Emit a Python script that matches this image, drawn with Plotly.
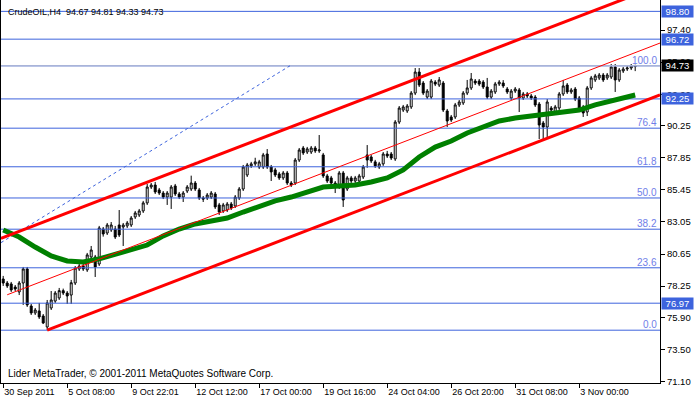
import plotly.graph_objects as go

# ---------------- data ----------------
opens = [78.78,78.48,78.41,78.18,77.81,78.48,79.53,76.76,76.24,76.39,76.01,75.19,76.61,77.13,77.36,77.91,77.73,77.58,78.48,79.53,
         79.75,79.46,80.43,80.43,79.90,82.52,82.22,82.45,82.52,82.82,82.67,82.75,82.82,83.42,83.57,83.87,84.47,85.66,85.81,85.44,
         85.21,84.91,84.91,85.74,85.14,84.91,85.36,85.51,85.96,85.44,84.84,84.84,84.91,85.14,84.32,83.87,83.94,84.39,84.24,84.84,
         85.51,86.56,87.24,87.39,87.16,87.16,88.13,87.16,86.94,86.64,86.34,86.71,85.96,85.96,87.68,88.58,88.28,88.28,88.58,88.36,
         88.06,86.49,86.34,85.96,85.66,86.71,85.51,86.34,86.11,86.11,86.41,88.06,87.91,87.54,87.16,87.39,88.13,88.13,87.76,90.52,
         91.42,91.35,91.65,92.69,94.26,93.44,92.39,92.39,93.51,93.29,93.44,91.35,90.90,90.90,91.80,91.95,92.69,93.07,93.59,93.59,
         93.51,93.14,92.39,92.77,93.37,93.44,92.99,92.32,92.84,92.92,92.32,92.62,92.47,92.39,91.87,90.45,90.15,91.57,91.27,91.57,
         92.62,93.29,92.77,92.99,92.32,91.65,91.27,93.07,93.67,93.82,94.04,93.82,93.89,94.64,93.67,94.34,94.49,94.56,94.67]
highs = [79.01,78.63,78.56,78.33,78.63,79.68,79.68,76.91,76.61,76.99,76.16,77.21,77.88,77.88,78.11,78.06,77.88,78.71,79.75,79.90,
         79.98,80.73,81.25,80.58,82.75,82.67,82.97,83.04,82.75,83.94,82.97,83.12,83.49,83.87,84.02,84.62,85.89,85.96,86.04,85.59,
         85.36,85.36,85.81,85.89,85.29,85.36,85.81,86.51,86.11,85.59,84.99,85.21,85.36,85.29,84.47,84.47,84.54,84.54,85.06,85.66,
         87.31,87.46,87.54,87.85,87.69,88.21,88.50,87.31,87.09,86.79,86.86,86.86,86.11,87.83,88.58,88.73,88.66,88.73,88.73,89.55,
         88.21,86.64,86.49,86.11,86.86,86.86,86.49,86.49,86.49,86.64,87.31,88.80,88.06,87.69,87.54,88.28,88.36,88.28,90.67,91.72,
         91.80,91.87,92.84,94.56,94.56,93.59,92.99,93.74,93.66,93.89,93.59,91.50,91.05,91.95,92.17,92.84,93.67,94.19,93.74,93.74,
         93.66,93.82,92.99,93.52,93.66,93.66,93.14,92.99,93.14,93.07,92.77,92.77,92.62,92.54,92.02,90.60,92.24,91.72,91.80,92.77,
         93.67,93.44,93.07,93.14,92.47,91.80,93.22,93.97,94.12,94.19,94.19,94.19,94.86,94.86,94.56,94.64,94.71,94.86,94.81]
lows = [78.26,78.11,77.81,77.88,77.58,76.84,76.69,76.09,76.09,75.79,75.41,74.95,76.46,76.99,77.21,77.58,76.91,76.91,78.33,79.38,
        79.38,79.31,80.28,78.93,79.75,81.95,82.07,82.30,81.77,81.92,81.25,82.60,82.67,83.27,83.42,83.72,84.32,85.51,85.14,85.06,
        84.76,84.32,84.02,84.99,84.76,84.54,85.21,85.36,85.36,84.69,84.54,84.69,84.76,84.02,83.57,83.72,83.79,83.94,84.09,84.69,
        85.36,86.41,87.09,87.24,87.01,87.01,87.01,86.11,86.41,86.19,86.19,85.81,85.66,85.81,87.53,88.06,88.13,88.13,88.21,88.21,
        86.34,85.96,85.81,85.21,85.51,84.17,85.36,85.96,85.96,85.96,86.26,87.10,87.46,87.09,87.01,87.24,87.83,87.68,87.61,90.37,
        91.27,91.20,91.50,92.54,93.14,92.54,92.24,92.24,93.21,93.14,91.27,90.15,90.52,90.75,91.65,91.80,92.54,92.92,93.29,93.21,
        92.99,92.24,92.24,92.62,93.22,93.07,92.62,92.17,92.69,91.27,92.17,92.32,92.17,91.65,89.25,89.25,89.40,91.27,91.12,91.42,
        92.47,92.62,92.62,92.09,91.42,90.90,90.97,92.92,93.52,93.67,93.52,93.67,93.74,92.77,93.52,94.19,94.34,94.41,94.33]
closes = [78.48,78.26,77.96,78.03,78.48,79.53,76.84,76.24,76.46,75.94,75.49,76.99,77.21,77.73,77.91,77.73,77.51,78.50,79.60,79.75,
          79.53,80.58,80.95,79.68,82.60,82.15,82.82,82.82,81.92,82.07,82.82,82.97,83.34,83.72,83.87,84.47,85.66,85.81,85.29,85.21,
          84.91,85.21,85.66,85.14,84.91,85.21,85.66,85.96,85.51,84.84,84.76,85.06,85.21,84.17,83.79,84.32,84.39,84.09,84.91,85.51,
          87.16,87.31,87.39,87.54,87.54,88.06,87.16,86.79,86.56,86.34,86.71,85.96,85.81,87.68,88.43,88.21,88.51,88.58,88.36,88.43,
          86.49,86.11,85.96,85.66,86.71,84.69,86.34,86.11,86.34,86.49,87.16,87.68,87.61,87.24,87.39,88.13,87.98,87.83,90.52,91.57,
          91.65,91.72,92.69,94.26,93.29,92.69,92.84,93.59,93.36,93.67,91.42,90.60,90.67,91.80,92.02,92.69,93.07,93.74,93.44,93.36,
          93.14,92.39,92.84,93.37,93.51,93.22,92.77,92.84,92.99,92.32,92.62,92.47,92.32,91.80,90.30,90.15,92.02,91.42,91.65,92.62,
          93.22,92.77,92.92,92.24,91.57,91.20,93.07,93.82,93.97,94.04,93.67,94.04,94.64,93.67,94.41,94.49,94.56,94.71,94.73]
bars = list(range(len(closes)))

# moving average (thick green), read every 4th bar
ma_bars = [0,4,8,12,16,20,24,28,32,36,40,44,48,52,56,60,64,68,72,76,80,84,88,92,96,100,
           104,108,112,116,120,124,128,132,136,140,144,148,152,156,158]
ma_vals = [82.45,81.92,81.17,80.50,80.13,80.05,80.28,80.65,81.03,81.32,82.00,82.52,82.90,83.12,83.34,83.79,
           84.24,84.62,84.91,85.29,85.66,85.74,85.81,86.04,86.34,86.94,87.91,88.65,89.10,89.70,90.15,90.60,
           90.82,90.97,91.05,91.20,91.42,91.80,92.10,92.39,92.54]

# price channel (red) and trend lines: [bar, price] end points
chan_lower = [(11, 74.95), (164.2, 92.55)]
chan_upper = [(-0.55, 81.82), (164.2, 100.75)]
chan_mid = [(1, 77.60), (164.2, 96.43)]
dash_line = [(-0.55, 81.50), (71.7, 94.73)]

# Fibonacci retracement
fib_low, fib_high = 74.95, 94.73
fib_ratios = [0.0, 0.236, 0.382, 0.5, 0.618, 0.764, 1.0]
fib_texts = ["0.0", "23.6", "38.2", "50.0", "61.8", "76.4", "100.0"]

# plain horizontal lines with price labels on the axis
hlines = [98.80, 96.72, 92.25, 76.97]
last_price = 94.73

ytick_vals = [97.40, 95.00, 92.60, 90.25, 87.85, 85.45, 83.05, 80.65, 78.25, 75.90, 73.50, 71.10]
xtick_bars = [0, 16, 32, 48, 64, 80, 96, 112, 128, 144]
xtick_text = ["30 Sep 2011", "5 Oct 08:00", "9 Oct 22:01", "12 Oct 12:00", "17 Oct 00:00",
              "19 Oct 16:00", "24 Oct 04:00", "26 Oct 20:00", "31 Oct 08:00", "3 Nov 00:00"]

title_text = "CrudeOIL,H4  94.67 94.81 94.33 94.73"
footer_text = "Lider MetaTrader, © 2001-2011 MetaQuotes Software Corp."

# ---------------- figure ----------------
BLUE = "#3d63dd"
FONT = "Liberation Sans"
XMIN, XMAX = -0.55, 164.2
YMIN, YMAX = 71.00, 99.65

fig = go.Figure()

# horizontal blue lines
fib_levels = [fib_low + r * (fib_high - fib_low) for r in fib_ratios]
for lv in hlines + fib_levels:
    fig.add_trace(go.Scatter(x=[XMIN, XMAX], y=[lv, lv], mode="lines",
                             line=dict(color=BLUE, width=1), hoverinfo="skip", showlegend=False))
# last price (grey) line
fig.add_trace(go.Scatter(x=[XMIN, XMAX], y=[last_price, last_price], mode="lines",
                         line=dict(color="#a9b4d8", width=1.5), hoverinfo="skip", showlegend=False))

# dashed blue trend line
fig.add_trace(go.Scatter(x=[p[0] for p in dash_line], y=[p[1] for p in dash_line], mode="lines",
                         line=dict(color=BLUE, width=1, dash="3px,3px"), hoverinfo="skip", showlegend=False))

# candles
fig.add_trace(go.Candlestick(
    x=bars, open=opens, high=highs, low=lows, close=closes,
    increasing=dict(line=dict(color="black", width=1), fillcolor="white"),
    decreasing=dict(line=dict(color="black", width=1), fillcolor="black"),
    whiskerwidth=0, showlegend=False, hoverinfo="skip"))

# moving average
fig.add_trace(go.Scatter(x=ma_bars, y=ma_vals, mode="lines",
                         line=dict(color="#008000", width=5), hoverinfo="skip", showlegend=False))

# red channel lines
for pts, w in [(chan_lower, 3), (chan_upper, 3), (chan_mid, 1)]:
    fig.add_trace(go.Scatter(x=[p[0] for p in pts], y=[p[1] for p in pts], mode="lines",
                             line=dict(color="#ff0000", width=w), hoverinfo="skip", showlegend=False))

annotations = []
# fib level labels
for lv, t in zip(fib_levels, fib_texts):
    annotations.append(dict(x=XMAX, y=lv, xref="x", yref="y", text=t, showarrow=False,
                            xanchor="right", yanchor="bottom", xshift=-1, yshift=-2,
                            font=dict(family=FONT, size=10, color="#6f7ee8")))
# axis price boxes
for lv in hlines:
    annotations.append(dict(x=1, y=lv, xref="paper", yref="y", text=f"{lv:.2f}", showarrow=False,
                            xanchor="left", yanchor="middle", xshift=1, width=31, height=11,
                            borderpad=0, bgcolor=BLUE, font=dict(family=FONT, size=9.5, color="white")))
annotations.append(dict(x=1, y=last_price, xref="paper", yref="y", text=f"{last_price:.2f}", showarrow=False,
                        xanchor="left", yanchor="middle", xshift=1, width=31, height=11,
                        borderpad=0, bgcolor="black", font=dict(family=FONT, size=9.5, color="white")))
# title and footer
annotations.append(dict(x=0, y=1, xref="paper", yref="paper", text=title_text, showarrow=False,
                        xanchor="left", yanchor="top", xshift=5, yshift=-5,
                        font=dict(family=FONT, size=9, color="black")))
annotations.append(dict(x=0, y=0, xref="paper", yref="paper", text=footer_text, showarrow=False,
                        xanchor="left", yanchor="bottom", xshift=5, yshift=2,
                        font=dict(family=FONT, size=10, color="black")))

fig.update_layout(
    width=700, height=402,
    margin=dict(l=1, r=40, t=0, b=19, autoexpand=False),
    paper_bgcolor="white", plot_bgcolor="white",
    showlegend=False,
    annotations=annotations,
    xaxis=dict(range=[XMIN, XMAX], rangeslider=dict(visible=False), showgrid=False, zeroline=False,
               tickvals=xtick_bars, ticktext=xtick_text, ticks="outside", ticklen=4, tickcolor="black",
               ticklabelposition="outside right", tickangle=0, automargin=False,
               showline=True, linecolor="black", linewidth=1, mirror=True,
               tickfont=dict(family=FONT, size=9, color="black")),
    yaxis=dict(range=[YMIN, YMAX], side="right", showgrid=False, zeroline=False, automargin=False,
               tickvals=ytick_vals, ticktext=[f"{v:.2f}" for v in ytick_vals],
               ticks="outside", ticklen=4, tickcolor="black",
               showline=True, linecolor="black", linewidth=1, mirror=True,
               tickfont=dict(family=FONT, size=9.5, color="black")),
)

fig.write_html("out.html", config={"displayModeBar": False},
               post_script="document.body.style.margin='0px';")
